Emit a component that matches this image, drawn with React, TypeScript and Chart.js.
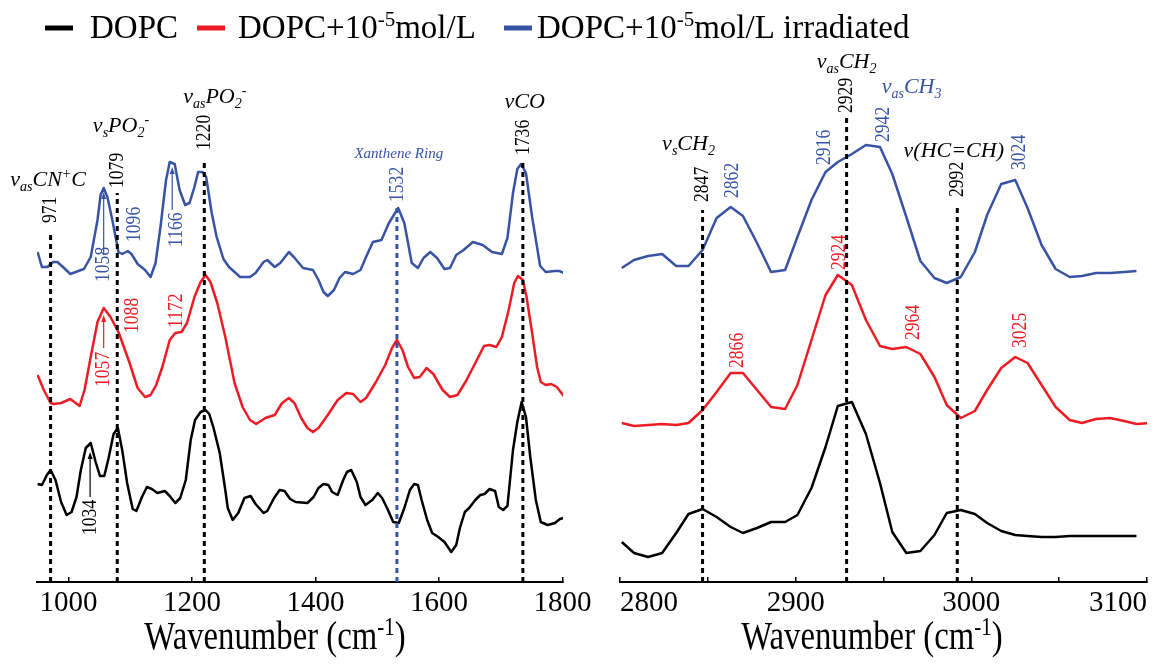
import React, { useEffect, useRef } from "react";
import { Chart, registerables } from "chart.js";

Chart.register(...registerables);

// ---------- styling constants ----------
const SERIF = '"Liberation Serif", "Times New Roman", Times, serif';
const INK = "#000000";
const RED = "#ED1C24";
const BLUE = "#3953A4";

// ---------- series ----------
const seriesNames = ["DOPC", "DOPC+10-5mol/L", "DOPC+10-5mol/L irradiated"];
const seriesColors = [INK, RED, BLUE];
const axisTitle = "Wavenumber (cm-1)";

// left panel (fingerprint region), wavenumbers in cm-1, offset absorbance (a.u.)
const leftWnDOPC = [950, 957, 965, 971, 979, 988, 997, 1005, 1013, 1020, 1028, 1036, 1044, 1051, 1058, 1065, 1073, 1080, 1087, 1095, 1104, 1110, 1119, 1127, 1135, 1144, 1156, 1164, 1173, 1181, 1190, 1198, 1205, 1214, 1222, 1228, 1235, 1245, 1254, 1258, 1266, 1275, 1285, 1295, 1303, 1316, 1322, 1333, 1342, 1350, 1359, 1368, 1387, 1397, 1405, 1413, 1421, 1427, 1436, 1445, 1451, 1458, 1467, 1473, 1481, 1492, 1501, 1508, 1516, 1526, 1535, 1544, 1553, 1560, 1566, 1572, 1581, 1589, 1599, 1609, 1620, 1628, 1634, 1642, 1649, 1659, 1667, 1674, 1682, 1691, 1697, 1704, 1711, 1720, 1727, 1734, 1741, 1748, 1757, 1765, 1776, 1788, 1796, 1802];
const leftDOPC = [0.98, 0.97, 1.07, 1.12, 1.02, 0.8, 0.67, 0.7, 0.85, 1.12, 1.34, 1.39, 1.2, 1.06, 1.06, 1.24, 1.48, 1.54, 1.32, 0.99, 0.73, 0.71, 0.85, 0.95, 0.93, 0.89, 0.91, 0.86, 0.79, 0.84, 1.02, 1.42, 1.62, 1.7, 1.72, 1.68, 1.54, 1.29, 0.92, 0.74, 0.62, 0.69, 0.84, 0.86, 0.78, 0.69, 0.71, 0.84, 0.92, 0.91, 0.83, 0.8, 0.79, 0.85, 0.94, 0.98, 0.97, 0.9, 0.87, 1.02, 1.1, 1.12, 1.0, 0.85, 0.77, 0.82, 0.89, 0.84, 0.74, 0.6, 0.59, 0.74, 0.92, 0.98, 0.97, 0.82, 0.62, 0.49, 0.45, 0.4, 0.3, 0.37, 0.54, 0.7, 0.74, 0.82, 0.87, 0.88, 0.93, 0.91, 0.75, 0.72, 0.76, 1.32, 1.6, 1.8, 1.65, 1.25, 0.82, 0.6, 0.57, 0.59, 0.63, 0.64];

const leftWnDye = [950, 960, 971, 976, 988, 1003, 1018, 1026, 1036, 1047, 1057, 1068, 1081, 1099, 1112, 1124, 1133, 1142, 1152, 1164, 1173, 1183, 1192, 1204, 1214, 1222, 1230, 1241, 1254, 1269, 1282, 1294, 1304, 1319, 1334, 1346, 1357, 1366, 1377, 1387, 1396, 1405, 1420, 1436, 1450, 1461, 1473, 1482, 1498, 1513, 1524, 1532, 1541, 1550, 1560, 1569, 1580, 1591, 1606, 1618, 1630, 1643, 1659, 1673, 1682, 1693, 1702, 1713, 1722, 1728, 1736, 1742, 1751, 1759, 1765, 1773, 1782, 1791, 1802];
const leftDye = [2.07, 1.92, 1.79, 1.78, 1.79, 1.83, 1.76, 1.92, 2.25, 2.6, 2.74, 2.65, 2.5, 2.19, 1.94, 1.85, 1.87, 1.97, 2.15, 2.42, 2.49, 2.5, 2.59, 2.85, 3.0, 3.07, 3.0, 2.79, 2.45, 1.99, 1.75, 1.62, 1.58, 1.64, 1.67, 1.79, 1.84, 1.79, 1.64, 1.54, 1.5, 1.54, 1.67, 1.82, 1.89, 1.88, 1.8, 1.84, 2.0, 2.17, 2.34, 2.42, 2.32, 2.15, 2.04, 2.05, 2.14, 2.08, 1.92, 1.85, 1.87, 2.0, 2.19, 2.36, 2.37, 2.35, 2.45, 2.72, 2.99, 3.06, 3.02, 2.85, 2.49, 2.15, 2.0, 1.97, 1.98, 1.95, 1.86];

const leftWnIrr = [950, 957, 966, 975, 982, 991, 1003, 1016, 1025, 1036, 1047, 1052, 1057, 1063, 1071, 1081, 1087, 1096, 1102, 1112, 1124, 1133, 1141, 1149, 1158, 1164, 1172, 1180, 1189, 1196, 1204, 1210, 1217, 1223, 1232, 1240, 1251, 1260, 1278, 1294, 1303, 1316, 1322, 1334, 1343, 1357, 1365, 1380, 1396, 1405, 1413, 1420, 1430, 1439, 1448, 1461, 1473, 1482, 1493, 1507, 1519, 1534, 1544, 1556, 1566, 1575, 1586, 1597, 1609, 1618, 1628, 1640, 1655, 1671, 1686, 1702, 1711, 1720, 1727, 1733, 1741, 1751, 1764, 1773, 1788, 1795, 1802];
const leftIrr = [3.3, 3.15, 3.15, 3.2, 3.2, 3.15, 3.08, 3.11, 3.13, 3.25, 3.62, 3.87, 3.94, 3.85, 3.62, 3.3, 3.28, 3.31, 3.28, 3.18, 3.12, 3.05, 3.19, 3.55, 4.02, 4.2, 4.18, 3.92, 3.77, 3.79, 3.95, 4.1, 4.1, 4.05, 3.69, 3.45, 3.23, 3.15, 3.05, 3.05, 3.09, 3.2, 3.22, 3.15, 3.19, 3.3, 3.25, 3.14, 3.12, 3.02, 2.9, 2.86, 2.92, 3.04, 3.1, 3.08, 3.12, 3.25, 3.4, 3.42, 3.59, 3.74, 3.59, 3.19, 3.14, 3.24, 3.3, 3.24, 3.13, 3.14, 3.27, 3.32, 3.4, 3.37, 3.3, 3.28, 3.44, 3.89, 4.13, 4.18, 4.09, 3.65, 3.16, 3.1, 3.11, 3.11, 3.09];

// right panel (C-H stretching region)
const rightWn = [2801, 2808, 2816, 2824, 2832, 2839, 2847, 2855, 2863, 2870, 2878, 2886, 2894, 2901, 2909, 2917, 2924, 2932, 2940, 2948, 2955, 2963, 2971, 2979, 2986, 2994, 3002, 3009, 3017, 3025, 3032, 3040, 3048, 3056, 3063, 3071, 3079, 3087, 3094, 3102];
const rightDOPC = [0.4, 0.29, 0.25, 0.29, 0.49, 0.68, 0.73, 0.65, 0.55, 0.49, 0.54, 0.6, 0.6, 0.67, 0.94, 1.35, 1.76, 1.8, 1.48, 0.99, 0.5, 0.29, 0.31, 0.47, 0.69, 0.72, 0.68, 0.59, 0.51, 0.47, 0.46, 0.45, 0.45, 0.46, 0.46, 0.46, 0.46, 0.46, 0.46, null];
const rightDye = [1.59, 1.56, 1.57, 1.58, 1.57, 1.59, 1.72, 1.9, 2.09, 2.09, 1.92, 1.75, 1.73, 1.97, 2.42, 2.87, 3.07, 2.97, 2.62, 2.36, 2.33, 2.35, 2.28, 2.05, 1.77, 1.64, 1.71, 1.92, 2.14, 2.25, 2.19, 1.97, 1.75, 1.62, 1.59, 1.63, 1.64, 1.61, 1.58, 1.59];
const rightIrr = [3.14, 3.22, 3.26, 3.28, 3.16, 3.16, 3.32, 3.64, 3.75, 3.66, 3.39, 3.1, 3.12, 3.45, 3.82, 4.1, 4.2, 4.28, 4.37, 4.35, 4.08, 3.65, 3.21, 3.04, 2.99, 3.05, 3.3, 3.67, 3.98, 4.02, 3.74, 3.37, 3.13, 3.05, 3.06, 3.09, 3.09, 3.1, 3.11, null];

// ---------- annotations (wavenumber, height in a.u.) ----------
// dashed guide lines: band position, top of line, start of rotated label
const guides = [
  { panel: "L", wn: 971, top: 3.5, labelAt: 3.59, text: "971", color: INK },
  { panel: "L", wn: 1079, top: 3.89, labelAt: 3.94, text: "1079", color: INK },
  { panel: "L", wn: 1220, top: 4.22, labelAt: 4.32, text: "1220", color: INK },
  { panel: "L", wn: 1532, top: 3.77, labelAt: 3.8, text: "1532", color: BLUE },
  { panel: "L", wn: 1736, top: 4.22, labelAt: 4.27, text: "1736", color: INK },
  { panel: "R", wn: 2847, top: 3.72, labelAt: 3.8, text: "2847", color: INK },
  { panel: "R", wn: 2929, top: 4.64, labelAt: 4.69, text: "2929", color: INK },
  { panel: "R", wn: 2992, top: 3.77, labelAt: 3.85, text: "2992", color: INK },
];
// rotated peak labels
const peakLabels = [
  { panel: "L", wn: 1056, at: 3.0, text: "1058", color: BLUE },
  { panel: "L", wn: 1106, at: 3.4, text: "1096", color: BLUE },
  { panel: "L", wn: 1174, at: 3.35, text: "1166", color: BLUE },
  { panel: "L", wn: 1056, at: 1.95, text: "1057", color: RED },
  { panel: "L", wn: 1103, at: 2.49, text: "1088", color: RED },
  { panel: "L", wn: 1174, at: 2.54, text: "1172", color: RED },
  { panel: "L", wn: 1035, at: 0.47, text: "1034", color: INK },
  { panel: "R", wn: 2864, at: 3.84, text: "2862", color: BLUE },
  { panel: "R", wn: 2916, at: 4.17, text: "2916", color: BLUE },
  { panel: "R", wn: 2950, at: 4.4, text: "2942", color: BLUE },
  { panel: "R", wn: 3027, at: 4.12, text: "3024", color: BLUE },
  { panel: "R", wn: 2925, at: 3.12, text: "2924", color: RED },
  { panel: "R", wn: 2867, at: 2.14, text: "2866", color: RED },
  { panel: "R", wn: 2967, at: 2.42, text: "2964", color: RED },
  { panel: "R", wn: 3028, at: 2.34, text: "3025", color: RED },
];
// leader arrows from a label up to its peak
const arrows = [
  { panel: "L", wn: 1057, from: 3.27, to: 3.9, color: BLUE },
  { panel: "L", wn: 1168, from: 3.72, to: 4.15, color: BLUE },
  { panel: "L", wn: 1057, from: 2.34, to: 2.67, color: RED },
  { panel: "L", wn: 1035, from: 0.85, to: 1.3, color: INK },
];
// vibration mode labels (centre wavenumber, baseline height)
const modeLabels = [
  { panel: "L", wn: 967, at: 3.96, color: INK, size: 22, segs: [["v"], ["as", "sub"], ["CN"], ["+", "sup"], ["C"]] },
  { panel: "L", wn: 1085, at: 4.5, color: INK, size: 22, segs: [["v"], ["s", "sub"], ["PO"], ["2", "sub"], ["-", "sup"]] },
  { panel: "L", wn: 1237, at: 4.79, color: INK, size: 22, segs: [["v"], ["as", "sub"], ["PO"], ["2", "sub"], ["-", "sup"]] },
  { panel: "L", wn: 1739, at: 4.74, color: INK, size: 22, segs: [["vCO"]] },
  { panel: "L", wn: 1535, at: 4.24, color: BLUE, size: 15, segs: [["Xanthene Ring"]] },
  { panel: "R", wn: 2839, at: 4.32, color: INK, size: 22, segs: [["v"], ["s", "sub"], ["CH"], ["2", "sub"]] },
  { panel: "R", wn: 2929, at: 5.14, color: INK, size: 22, segs: [["v"], ["as", "sub"], ["CH"], ["2", "sub"]] },
  { panel: "R", wn: 2966, at: 4.89, color: BLUE, size: 22, segs: [["v"], ["as", "sub"], ["CH"], ["3", "sub"]] },
  { panel: "R", wn: 2990, at: 4.25, color: INK, size: 22, segs: [["v(HC=CH)"]] },
];

// ---------- drawing helpers ----------
function splitSup(text: string): any[] {
  return text
    .split(/(-\d)/)
    .filter((p) => p.length > 0)
    .map((p) => (/^-\d$/.test(p) ? [p, "sup"] : [p]));
}

function drawRich(ctx: any, segs: any[], x: number, y: number, o: any) {
  const small = Math.round(o.size * 0.64);
  const fontFor = (k: any) => `${o.italic ? "italic " : ""}${k ? small : o.size}px ${SERIF}`;
  const widths = segs.map((s: any) => {
    ctx.font = fontFor(s[1]);
    return ctx.measureText(s[0]).width;
  });
  const total = widths.reduce((a: number, b: number) => a + b, 0);
  ctx.save();
  ctx.translate(x, y);
  ctx.scale(o.condense || 1, 1);
  ctx.fillStyle = o.color;
  ctx.textAlign = "left";
  ctx.textBaseline = "alphabetic";
  let cx = o.align === "center" ? -total / 2 : 0;
  segs.forEach((s: any, i: number) => {
    ctx.font = fontFor(s[1]);
    const dy = s[1] === "sub" ? o.size * 0.22 : s[1] === "sup" ? -o.size * 0.36 : 0;
    ctx.fillText(s[0], cx, dy);
    cx += widths[i];
  });
  ctx.restore();
}

function drawVertical(ctx: any, text: string, x: number, yStart: number, color: string) {
  ctx.save();
  ctx.translate(x, yStart);
  ctx.rotate(-Math.PI / 2);
  ctx.scale(0.8, 1);
  ctx.font = `22px ${SERIF}`;
  ctx.fillStyle = color;
  ctx.textAlign = "left";
  ctx.textBaseline = "middle";
  ctx.fillText(text, 0, 0);
  ctx.restore();
}

function drawArrow(ctx: any, x: number, yFrom: number, yTo: number, color: string) {
  ctx.save();
  ctx.strokeStyle = color;
  ctx.fillStyle = color;
  ctx.lineWidth = 1.2;
  ctx.beginPath();
  ctx.moveTo(x, yFrom);
  ctx.lineTo(x, yTo + 4);
  ctx.stroke();
  ctx.beginPath();
  ctx.moveTo(x, yTo);
  ctx.lineTo(x - 2.5, yTo + 7);
  ctx.lineTo(x + 2.5, yTo + 7);
  ctx.closePath();
  ctx.fill();
  ctx.restore();
}

const annotatePlugin = {
  id: "spectraAnnotations",
  afterDatasetsDraw(chart: any) {
    const ctx = chart.ctx;
    const xs: any = { L: chart.scales.xL, R: chart.scales.xR };
    const ys: any = { L: chart.scales.yL, R: chart.scales.yR };

    guides.forEach((g) => {
      const x = xs[g.panel].getPixelForValue(g.wn);
      const yTop = ys[g.panel].getPixelForValue(g.top);
      const yBot = ys[g.panel].getPixelForValue(0);
      ctx.save();
      ctx.strokeStyle = g.color;
      ctx.lineWidth = 3;
      ctx.setLineDash([5, 4]);
      ctx.beginPath();
      ctx.moveTo(x, yBot);
      ctx.lineTo(x, yTop);
      ctx.stroke();
      ctx.restore();
      drawVertical(ctx, g.text, x, ys[g.panel].getPixelForValue(g.labelAt), g.color);
    });

    peakLabels.forEach((p) => {
      drawVertical(ctx, p.text, xs[p.panel].getPixelForValue(p.wn), ys[p.panel].getPixelForValue(p.at), p.color);
    });

    arrows.forEach((a) => {
      drawArrow(
        ctx,
        xs[a.panel].getPixelForValue(a.wn),
        ys[a.panel].getPixelForValue(a.from),
        ys[a.panel].getPixelForValue(a.to),
        a.color
      );
    });

    modeLabels.forEach((m) => {
      drawRich(ctx, m.segs, xs[m.panel].getPixelForValue(m.wn), ys[m.panel].getPixelForValue(m.at), {
        size: m.size,
        italic: true,
        color: m.color,
        align: "center",
      });
    });
  },
  afterDraw(chart: any) {
    const ctx = chart.ctx;
    // legend
    const lineX = [45, 197, 504];
    const textX = [90, 238, 537];
    chart.data.datasets.slice(0, 3).forEach((ds: any, i: number) => {
      ctx.save();
      ctx.strokeStyle = ds.borderColor;
      ctx.lineWidth = 5;
      ctx.beginPath();
      ctx.moveTo(lineX[i], 28);
      ctx.lineTo(lineX[i] + 28, 28);
      ctx.stroke();
      ctx.restore();
      drawRich(ctx, splitSup(ds.label), textX[i], 38, { size: 33, color: INK, align: "left" });
    });
    // axis titles
    const titleFrac: any = { xL: 0.4525, xR: 0.478 };
    ["xL", "xR"].forEach((id) => {
      const s = chart.scales[id];
      drawRich(ctx, splitSup(axisTitle), s.left + s.width * titleFrac[id], s.top + 67, {
        size: 39,
        color: INK,
        align: "center",
        condense: 0.84,
      });
    });
  },
};

function makeSet(label: string, xs: number[], ys: any[], color: string, panel: string) {
  return {
    label,
    data: xs.map((x, i) => ({ x, y: ys[i] })).filter((p) => p.y !== null),
    borderColor: color,
    backgroundColor: color,
    borderWidth: 2.5,
    borderJoinStyle: "round",
    pointRadius: 0,
    tension: 0,
    fill: false,
    xAxisID: "x" + panel,
    yAxisID: "y" + panel,
  };
}

const fixAxis = (s: any) => {
  s.height = 82;
  s.paddingLeft = 0;
  s.paddingRight = 0;
};

const tickFont = { family: SERIF, size: 29 };

export default function App() {
  const ref = useRef<HTMLCanvasElement>(null);

  useEffect(() => {
    if (!ref.current) return;
    const chart = new Chart(ref.current, {
      type: "line",
      data: {
        datasets: [
          makeSet(seriesNames[0], leftWnDOPC, leftDOPC, seriesColors[0], "L"),
          makeSet(seriesNames[1], leftWnDye, leftDye, seriesColors[1], "L"),
          makeSet(seriesNames[2], leftWnIrr, leftIrr, seriesColors[2], "L"),
          makeSet(seriesNames[0], rightWn, rightDOPC, seriesColors[0], "R"),
          makeSet(seriesNames[1], rightWn, rightDye, seriesColors[1], "R"),
          makeSet(seriesNames[2], rightWn, rightIrr, seriesColors[2], "R"),
        ],
      } as any,
      options: {
        animation: false,
        responsive: false,
        events: [],
        layout: { autoPadding: false, padding: { left: 37, right: 20, top: 0, bottom: 0 } },
        plugins: { legend: { display: false }, tooltip: { enabled: false }, title: { display: false } },
        scales: {
          xL: {
            type: "linear",
            position: "bottom",
            stack: "wn",
            stackWeight: 526,
            weight: 1,
            min: 949,
            max: 1801,
            ticks: {
              stepSize: 200,
              includeBounds: false,
              autoSkip: false,
              maxRotation: 0,
              color: INK,
              font: tickFont,
              padding: 9,
              callback: (v: any) => String(v),
            },
            grid: { drawOnChartArea: false, drawTicks: true, tickLength: -5, color: INK, lineWidth: 1.5 },
            border: { display: true, color: INK, width: 2 },
            afterFit: fixAxis,
          },
          xGap: {
            type: "linear",
            position: "bottom",
            stack: "wn",
            stackWeight: 57,
            weight: 2,
            ticks: { display: false },
            grid: { display: false },
            border: { display: false },
            afterFit: fixAxis,
          },
          xR: {
            type: "linear",
            position: "bottom",
            stack: "wn",
            stackWeight: 527,
            weight: 3,
            min: 2800,
            max: 3100,
            ticks: {
              stepSize: 50,
              includeBounds: false,
              autoSkip: false,
              maxRotation: 0,
              align: "inner",
              color: INK,
              font: tickFont,
              padding: 9,
              callback: (v: any) => (Number(v) % 100 === 0 ? String(v) : ""),
            },
            grid: { drawOnChartArea: false, drawTicks: true, tickLength: -5, color: INK, lineWidth: 1.5 },
            border: { display: true, color: INK, width: 2 },
            afterFit: fixAxis,
          },
          yL: { type: "linear", display: false, min: 0, max: 5.82 },
          yR: { type: "linear", display: false, min: 0, max: 5.82 },
        },
      } as any,
      plugins: [annotatePlugin],
    });
    return () => chart.destroy();
  }, []);

  return (
    <div style={{ position: "fixed", left: 0, top: 0, width: 1167, height: 664, background: "#ffffff" }}>
      <canvas ref={ref} width={1167} height={664} style={{ width: "1167px", height: "664px", display: "block" }} />
    </div>
  );
}
